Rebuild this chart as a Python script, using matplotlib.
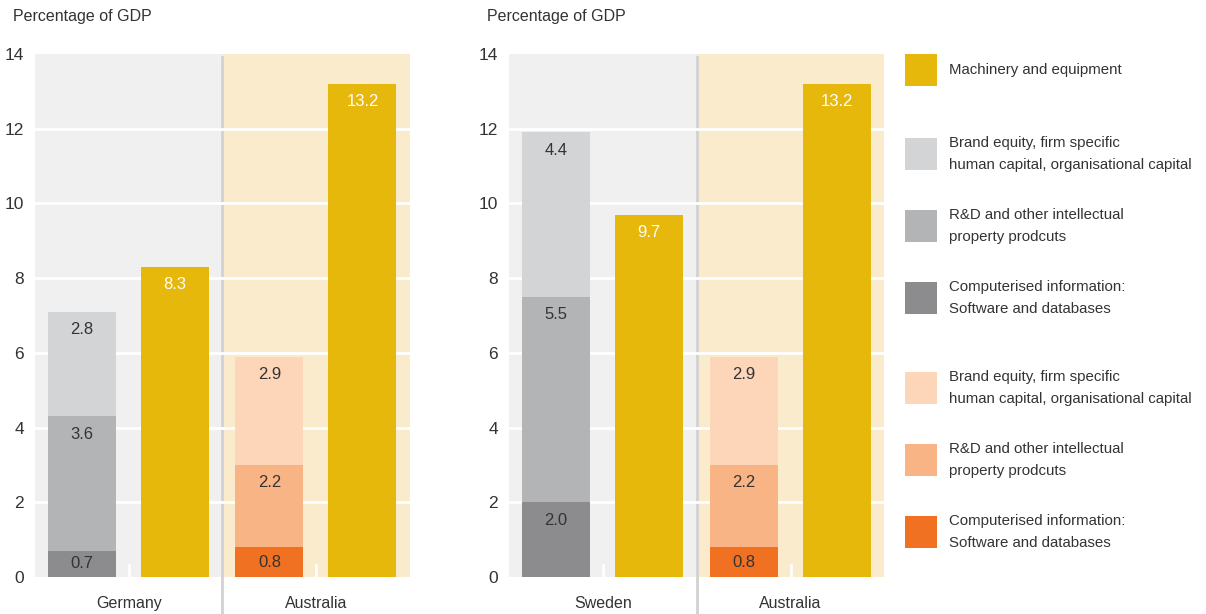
import matplotlib.pyplot as plt
from matplotlib.patches import Rectangle

plt.rcParams['font.family'] = ['Liberation Sans', 'DejaVu Sans']

# intangible + tangible investment, percentage of GDP
countries = ["Germany", "Sweden", "Australia"]
software = [0.7, 2.0, 0.8]
rnd = [3.6, 5.5, 2.2]
brand = [2.8, 4.4, 2.9]
machinery = [8.3, 9.7, 13.2]

legend_labels = [
    "Machinery and equipment",
    "Brand equity, firm specific\nhuman capital, organisational capital",
    "R&D and other intellectual\nproperty prodcuts",
    "Computerised information:\nSoftware and databases",
]

YELLOW = "#e6b80c"
GREYS = ["#8c8c8e", "#b3b4b6", "#d3d4d6"]      # software, rnd, brand
ORANGES = ["#f07121", "#f9b486", "#fdd5b9"]
BG_GREY = "#f0f0f0"
BG_BEIGE = "#f9ebcc"
TXT = "#333333"

fig = plt.figure(figsize=(12.06, 6.14), dpi=100)
FW, FH = 1206, 614


def px_axes(x0, y0, x1, y1):
    # axes from pixel box (top-left origin)
    return fig.add_axes([x0 / FW, 1 - y1 / FH, (x1 - x0) / FW, (y1 - y0) / FH])


GW = 187.5  # width of one country group in x units


def seg_label(ax, x, bottom, h, color):
    top = bottom + h
    off = min(0.48, h / 2)
    ax.text(x, top - off, f"{h:.1f}", ha="center", va="center",
            fontsize=12, color=color, zorder=5)


def panel(ax, idx):
    ax.set_xlim(0, 2 * GW)
    ax.set_ylim(0, 14)
    ax.add_patch(Rectangle((0, 0), GW, 14, color=BG_GREY, zorder=0, lw=0))
    ax.add_patch(Rectangle((GW, 0), GW, 14, color=BG_BEIGE, zorder=0, lw=0))
    for y in range(2, 14, 2):
        ax.axhline(y, color="white", lw=2, zorder=1)
    ax.axvline(GW, ymin=-37 / 523, ymax=1 - 3 / 523, color="#d2d2d2",
               lw=2, zorder=0.5, clip_on=False)

    for g, ci in enumerate(idx):
        cols = ORANGES if countries[ci] == "Australia" else GREYS
        x_stack = g * GW + 47
        x_mach = g * GW + 140
        bottom = 0
        for val, col in zip([software[ci], rnd[ci], brand[ci]], cols):
            ax.bar(x_stack, val, width=68, bottom=bottom, color=col, zorder=2)
            seg_label(ax, x_stack, bottom, val, TXT)
            bottom += val
        ax.bar(x_mach, machinery[ci], width=68, color=YELLOW, zorder=2)
        seg_label(ax, x_mach, 0, machinery[ci], "white")
        # small white tick between the two bars
        ax.axvline(g * GW + 94, ymin=0, ymax=12 / 523, color="white",
                   lw=2, zorder=1)

    ax.set_xticks([GW / 2 + g * GW for g in range(len(idx))])
    ax.set_xticklabels([countries[ci] for ci in idx], fontsize=11.5, color=TXT)
    ax.set_yticks(range(0, 15, 2))
    ax.set_yticklabels([str(v) for v in range(0, 15, 2)], fontsize=12.5, color=TXT)
    ax.tick_params(length=0, pad=8)
    ax.tick_params(axis="x", pad=14)
    for s in ax.spines.values():
        s.set_visible(False)


ax1 = px_axes(35, 54, 410, 577)
panel(ax1, [0, 2])
ax2 = px_axes(509, 54, 884, 577)
panel(ax2, [1, 2])

for x0 in (13, 487):
    fig.text(x0 / FW, 1 - 17 / FH, "Percentage of GDP", fontsize=11.5,
             color=TXT, ha="left", va="center")

# legend drawn in its own pixel-space axes
lax = px_axes(890, 40, 1206, 570)
lax.set_xlim(890, 1206)
lax.set_ylim(570, 40)
lax.axis("off")
entries = [(YELLOW, legend_labels[0], 70),
           (GREYS[2], legend_labels[1], 154),
           (GREYS[1], legend_labels[2], 226),
           (GREYS[0], legend_labels[3], 298),
           (ORANGES[2], legend_labels[1], 388),
           (ORANGES[1], legend_labels[2], 460),
           (ORANGES[0], legend_labels[3], 532)]
for col, lab, yc in entries:
    lax.add_patch(Rectangle((905, yc - 16), 32, 32, color=col, lw=0))
    lax.text(949, yc, lab, fontsize=10.8, color=TXT, ha="left", va="center",
             linespacing=1.65)

fig.savefig("out.png", dpi=100)
